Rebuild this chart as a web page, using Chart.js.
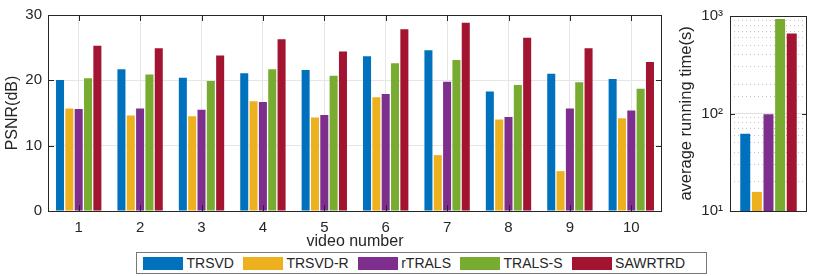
<!DOCTYPE html>
<html>
<head>
<meta charset="utf-8">
<script src="https://cdn.jsdelivr.net/npm/chart.js@4.4.0/dist/chart.umd.min.js"></script>
<style>
body { margin: 0; background: #fff; }
#wrap { position: relative; width: 830px; height: 276px; font-family: "Liberation Sans", Arial, sans-serif; color: #262626; }
#psnr { position: absolute; left: 0; top: 0; }
#time { position: absolute; left: 672px; top: 0; }
#legend { position: absolute; left: 136px; top: 252px; width: 571px; height: 22px; border: 1px solid #777; box-sizing: border-box;
          display: flex; align-items: center; padding-left: 6px; font-size: 14px; background: #fff; }
.item { display: flex; align-items: center; margin-right: 9px; }
.swatch { width: 40px; height: 13px; margin-right: 3.5px; }
</style>
</head>
<body>
<div id="wrap">
  <canvas id="psnr" width="680" height="276"></canvas>
  <canvas id="time" width="158" height="276"></canvas>
  <div id="legend"></div>
</div>
<script>
var videoNumbers = ['1', '2', '3', '4', '5', '6', '7', '8', '9', '10'];
var methods = ['TRSVD', 'TRSVD-R', 'rTRALS', 'TRALS-S', 'SAWRTRD'];
var colors = ['#0072BD', '#EDB120', '#7E2F8E', '#77AC30', '#A2142F'];

var psnrTRSVD   = [20.05, 21.7, 20.4, 21.1, 21.6, 23.7, 24.6, 18.3, 21.0, 20.2];
var psnrTRSVDR  = [15.7, 14.6, 14.5, 16.8, 14.3, 17.4, 8.55, 14.0, 6.1, 14.2];
var psnrRTRALS  = [15.6, 15.7, 15.5, 16.7, 14.7, 17.9, 19.8, 14.4, 15.7, 15.4];
var psnrTRALSS  = [20.3, 20.9, 19.9, 21.7, 20.7, 22.6, 23.1, 19.3, 19.7, 18.7];
var psnrSAWRTRD = [25.3, 24.9, 23.8, 26.3, 24.4, 27.8, 28.8, 26.5, 24.9, 22.8];

// average running time (s), one per method
var avgTime = [62, 15.7, 98, 933, 661];

var psnrTicks = [0, 10, 20, 30];
var timeTicks = [10, 100, 1000];
var timeTickLabels = ['10\u00B9', '10\u00B2', '10\u00B3'];

var textColor = '#262626';
Chart.defaults.font.family = '"Liberation Sans", Arial, sans-serif';
Chart.defaults.color = textColor;

// box round the plot with inward tick marks, like the matlab axes
var framePlugin = {
    id: 'frame',
    afterDatasetsDraw: function (chart, args, opts) {
        var a = chart.chartArea, ctx = chart.ctx;
        var len = opts.len || 5;
        ctx.save();
        ctx.strokeStyle = textColor;
        ctx.lineWidth = 1;
        ctx.strokeRect(Math.round(a.left) + 0.5, Math.round(a.top) + 0.5,
            Math.round(a.right - a.left) - 1, Math.round(a.bottom - a.top));
        ctx.beginPath();
        if (opts.xTicks) {
            var xs = chart.scales.x;
            xs.ticks.forEach(function (t, i) {
                var x = Math.round(xs.getPixelForTick(i)) + 0.5;
                ctx.moveTo(x, a.bottom); ctx.lineTo(x, a.bottom - len);
                ctx.moveTo(x, a.top); ctx.lineTo(x, a.top + len);
            });
        }
        (opts.yTicks || []).forEach(function (v) {
            var y = Math.round(chart.scales.y.getPixelForValue(v)) + 0.5;
            ctx.moveTo(a.left, y); ctx.lineTo(a.left + len, y);
            ctx.moveTo(a.right, y); ctx.lineTo(a.right - len, y);
        });
        ctx.stroke();
        ctx.restore();
    }
};

var psnrSeries = [psnrTRSVD, psnrTRSVDR, psnrRTRALS, psnrTRALSS, psnrSAWRTRD];
var psnrDatasets = methods.map(function (name, i) {
    return {
        label: name,
        data: psnrSeries[i],
        backgroundColor: colors[i],
        borderWidth: 0,
        categoryPercentage: 0.76,
        barPercentage: 0.86
    };
});

new Chart(document.getElementById('psnr'), {
    type: 'bar',
    data: { labels: videoNumbers, datasets: psnrDatasets },
    plugins: [framePlugin],
    options: {
        responsive: false,
        animation: false,
        layout: { padding: { left: 3, right: 18, top: 11, bottom: 25 } },
        plugins: {
            legend: { display: false },
            tooltip: { enabled: false },
            frame: { xTicks: true, yTicks: [10, 20], len: 6 }
        },
        scales: {
            x: {
                grid: { offset: false, color: '#e6e6e6', drawTicks: false },
                border: { display: false },
                ticks: { padding: 8, font: { size: 15 } },
                title: { display: true, text: 'video number', font: { size: 16 }, padding: 0 },
                afterFit: function (s) { s.height = 40; }
            },
            y: {
                min: 0, max: 30,
                afterBuildTicks: function (s) { s.ticks = psnrTicks.map(function (v) { return { value: v }; }); },
                grid: { color: '#e6e6e6', drawTicks: false },
                border: { display: false },
                ticks: { padding: 6, font: { size: 15 } },
                title: { display: true, text: 'PSNR(dB)', font: { size: 16 }, padding: 0 },
                afterFit: function (s) { s.width = 45; }
            }
        }
    }
});

var timeDatasets = methods.map(function (name, i) {
    return {
        label: name,
        data: [avgTime[i]],
        backgroundColor: colors[i],
        borderWidth: 0,
        categoryPercentage: 0.755,
        barPercentage: 0.86
    };
});

var isDecade = function (v) { return Math.abs(Math.log10(v) - Math.round(Math.log10(v))) < 1e-9; };

new Chart(document.getElementById('time'), {
    type: 'bar',
    data: { labels: [''], datasets: timeDatasets },
    plugins: [framePlugin],
    options: {
        responsive: false,
        animation: false,
        layout: { padding: { left: 5, right: 23, top: 11, bottom: 65 } },
        plugins: {
            legend: { display: false },
            tooltip: { enabled: false },
            frame: { xTicks: false, yTicks: [100], len: 5 }
        },
        scales: {
            x: { display: false },
            y: {
                type: 'logarithmic',
                min: 10, max: 1000,
                grid: {
                    drawTicks: false,
                    color: function (c) { return c.tick && isDecade(c.tick.value) ? '#e2e2e2' : '#c4c4c4'; }
                },
                border: {
                    display: false,
                    dash: function (c) { return c.tick && isDecade(c.tick.value) ? [] : [1, 3]; }
                },
                ticks: {
                    autoSkip: false,
                    padding: 7,
                    font: { size: 15 },
                    callback: function (v) {
                        var k = timeTicks.indexOf(v);
                        return k >= 0 ? timeTickLabels[k] : '';
                    }
                },
                title: { display: true, text: 'average running time(s)', font: { size: 16.5 }, padding: 0 },
                afterFit: function (s) { s.width = 53; }
            }
        }
    }
});

// legend shared by both panels
var legend = document.getElementById('legend');
methods.forEach(function (name, i) {
    var item = document.createElement('div');
    item.className = 'item';
    item.innerHTML = '<div class="swatch" style="background:' + colors[i] + '"></div><span>' + name + '</span>';
    legend.appendChild(item);
});
</script>
</body>
</html>
